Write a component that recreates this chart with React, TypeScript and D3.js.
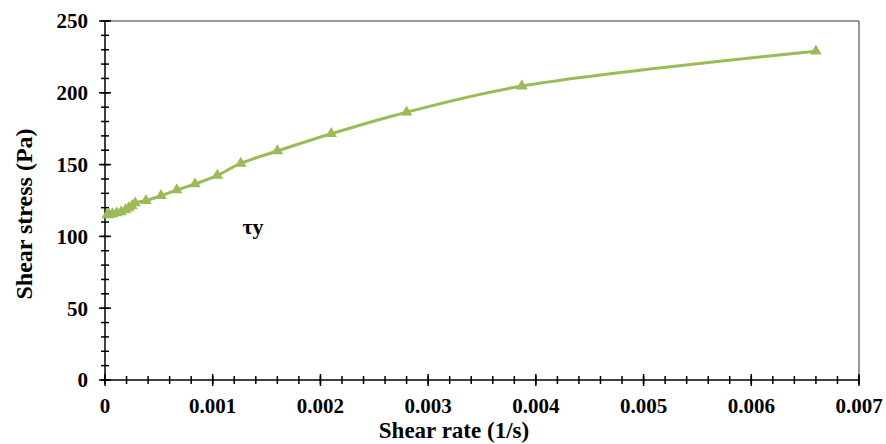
import React from "react";
import * as d3 from "d3";

const shearRate = [0.00002, 0.00004, 0.00007, 0.00011, 0.00015, 0.00019, 0.00022, 0.00025, 0.00028, 0.00038, 0.00052, 0.000666, 0.000836, 0.001043, 0.00126, 0.0016, 0.0021, 0.0028, 0.00387, 0.0066];
const shearStress = [114.9, 115.2, 115.6, 116.3, 117, 118.4, 119.8, 121.2, 123.3, 124.9, 128.3, 132.3, 136.5, 142.5, 150.8, 159.5, 171.5, 186.5, 204.7, 229];
const xTicks = [0, 0.001, 0.002, 0.003, 0.004, 0.005, 0.006, 0.007];
const xTickLabels = ["0", "0.001", "0.002", "0.003", "0.004", "0.005", "0.006", "0.007"];
const yTicks = [0, 50, 100, 150, 200, 250];
const xTitle = "Shear rate (1/s)";
const yTitle = "Shear stress (Pa)";
const annotation = "τy";

const W = 886, H = 444;
const L = 105, R = 859, T = 21, B = 380;
const GREEN = "#9BBB59";
const FONT = "'Liberation Serif', 'DejaVu Serif', serif";

export default function App() {
  const x = d3.scaleLinear().domain([0, 0.007]).range([L, R]);
  const y = d3.scaleLinear().domain([0, 250]).range([B, T]);
  const pts: [number, number][] = shearRate.map((v, i) => [v, shearStress[i]]);
  const line = d3.line<[number, number]>().x(d => x(d[0])).y(d => y(d[1])).curve(d3.curveCatmullRom.alpha(0.5));
  const tri = d3.symbol().type(d3.symbolTriangle).size(58)();
  const xMinor = d3.range(0, 36).map(i => i * 0.0002);
  const yMinor = d3.range(0, 26).map(i => i * 10);
  const txt = { fontFamily: FONT, fontWeight: "bold" as const };

  return (
    <svg width={W} height={H} style={{ position: "absolute", left: 0, top: 0, background: "#fff" }}>
      <rect x={0} y={0} width={W} height={H} fill="#fff" />
      <line x1={L} y1={T} x2={R} y2={T} stroke="#333" strokeWidth={1} />
      <line x1={R} y1={T} x2={R} y2={B} stroke="#333" strokeWidth={1} />
      <line x1={L} y1={T} x2={L} y2={B} stroke="#000" strokeWidth={1.5} />
      <line x1={L} y1={B} x2={R} y2={B} stroke="#000" strokeWidth={1.5} />
      {yMinor.map(v => (
        <line key={"ym" + v} x1={L - 4} x2={L + 4} y1={y(v)} y2={y(v)} stroke="#000" strokeWidth={1.5} />
      ))}
      {yTicks.map(v => (
        <line key={"yM" + v} x1={L - 6} x2={L + 6} y1={y(v)} y2={y(v)} stroke="#000" strokeWidth={1.5} />
      ))}
      {xMinor.map(v => (
        <line key={"xm" + v} x1={x(v)} x2={x(v)} y1={B - 4} y2={B + 4} stroke="#000" strokeWidth={1.5} />
      ))}
      {xTicks.map(v => (
        <line key={"xM" + v} x1={x(v)} x2={x(v)} y1={B - 6} y2={B + 6} stroke="#000" strokeWidth={1.5} />
      ))}
      {yTicks.map(v => (
        <text key={"yl" + v} x={88} y={y(v)} dy="0.35em" textAnchor="end" style={txt} fontSize={21}>{v}</text>
      ))}
      {xTicks.map((v, i) => (
        <text key={"xl" + v} x={x(v)} y={413} textAnchor="middle" style={txt} fontSize={21}>{xTickLabels[i]}</text>
      ))}
      <text x={454} y={438} textAnchor="middle" style={txt} fontSize={23}>{xTitle}</text>
      <text transform={`translate(32,214) rotate(-90)`} textAnchor="middle" style={txt} fontSize={24}>{yTitle}</text>
      <text x={253} y={234} textAnchor="middle" style={txt} fontSize={22}>{annotation}</text>
      <path d={line(pts) || ""} fill="none" stroke={GREEN} strokeWidth={3} />
      {pts.map((p, i) => (
        <path key={"p" + i} d={tri || ""} transform={`translate(${x(p[0])},${y(p[1])})`} fill={GREEN} />
      ))}
    </svg>
  );
}
